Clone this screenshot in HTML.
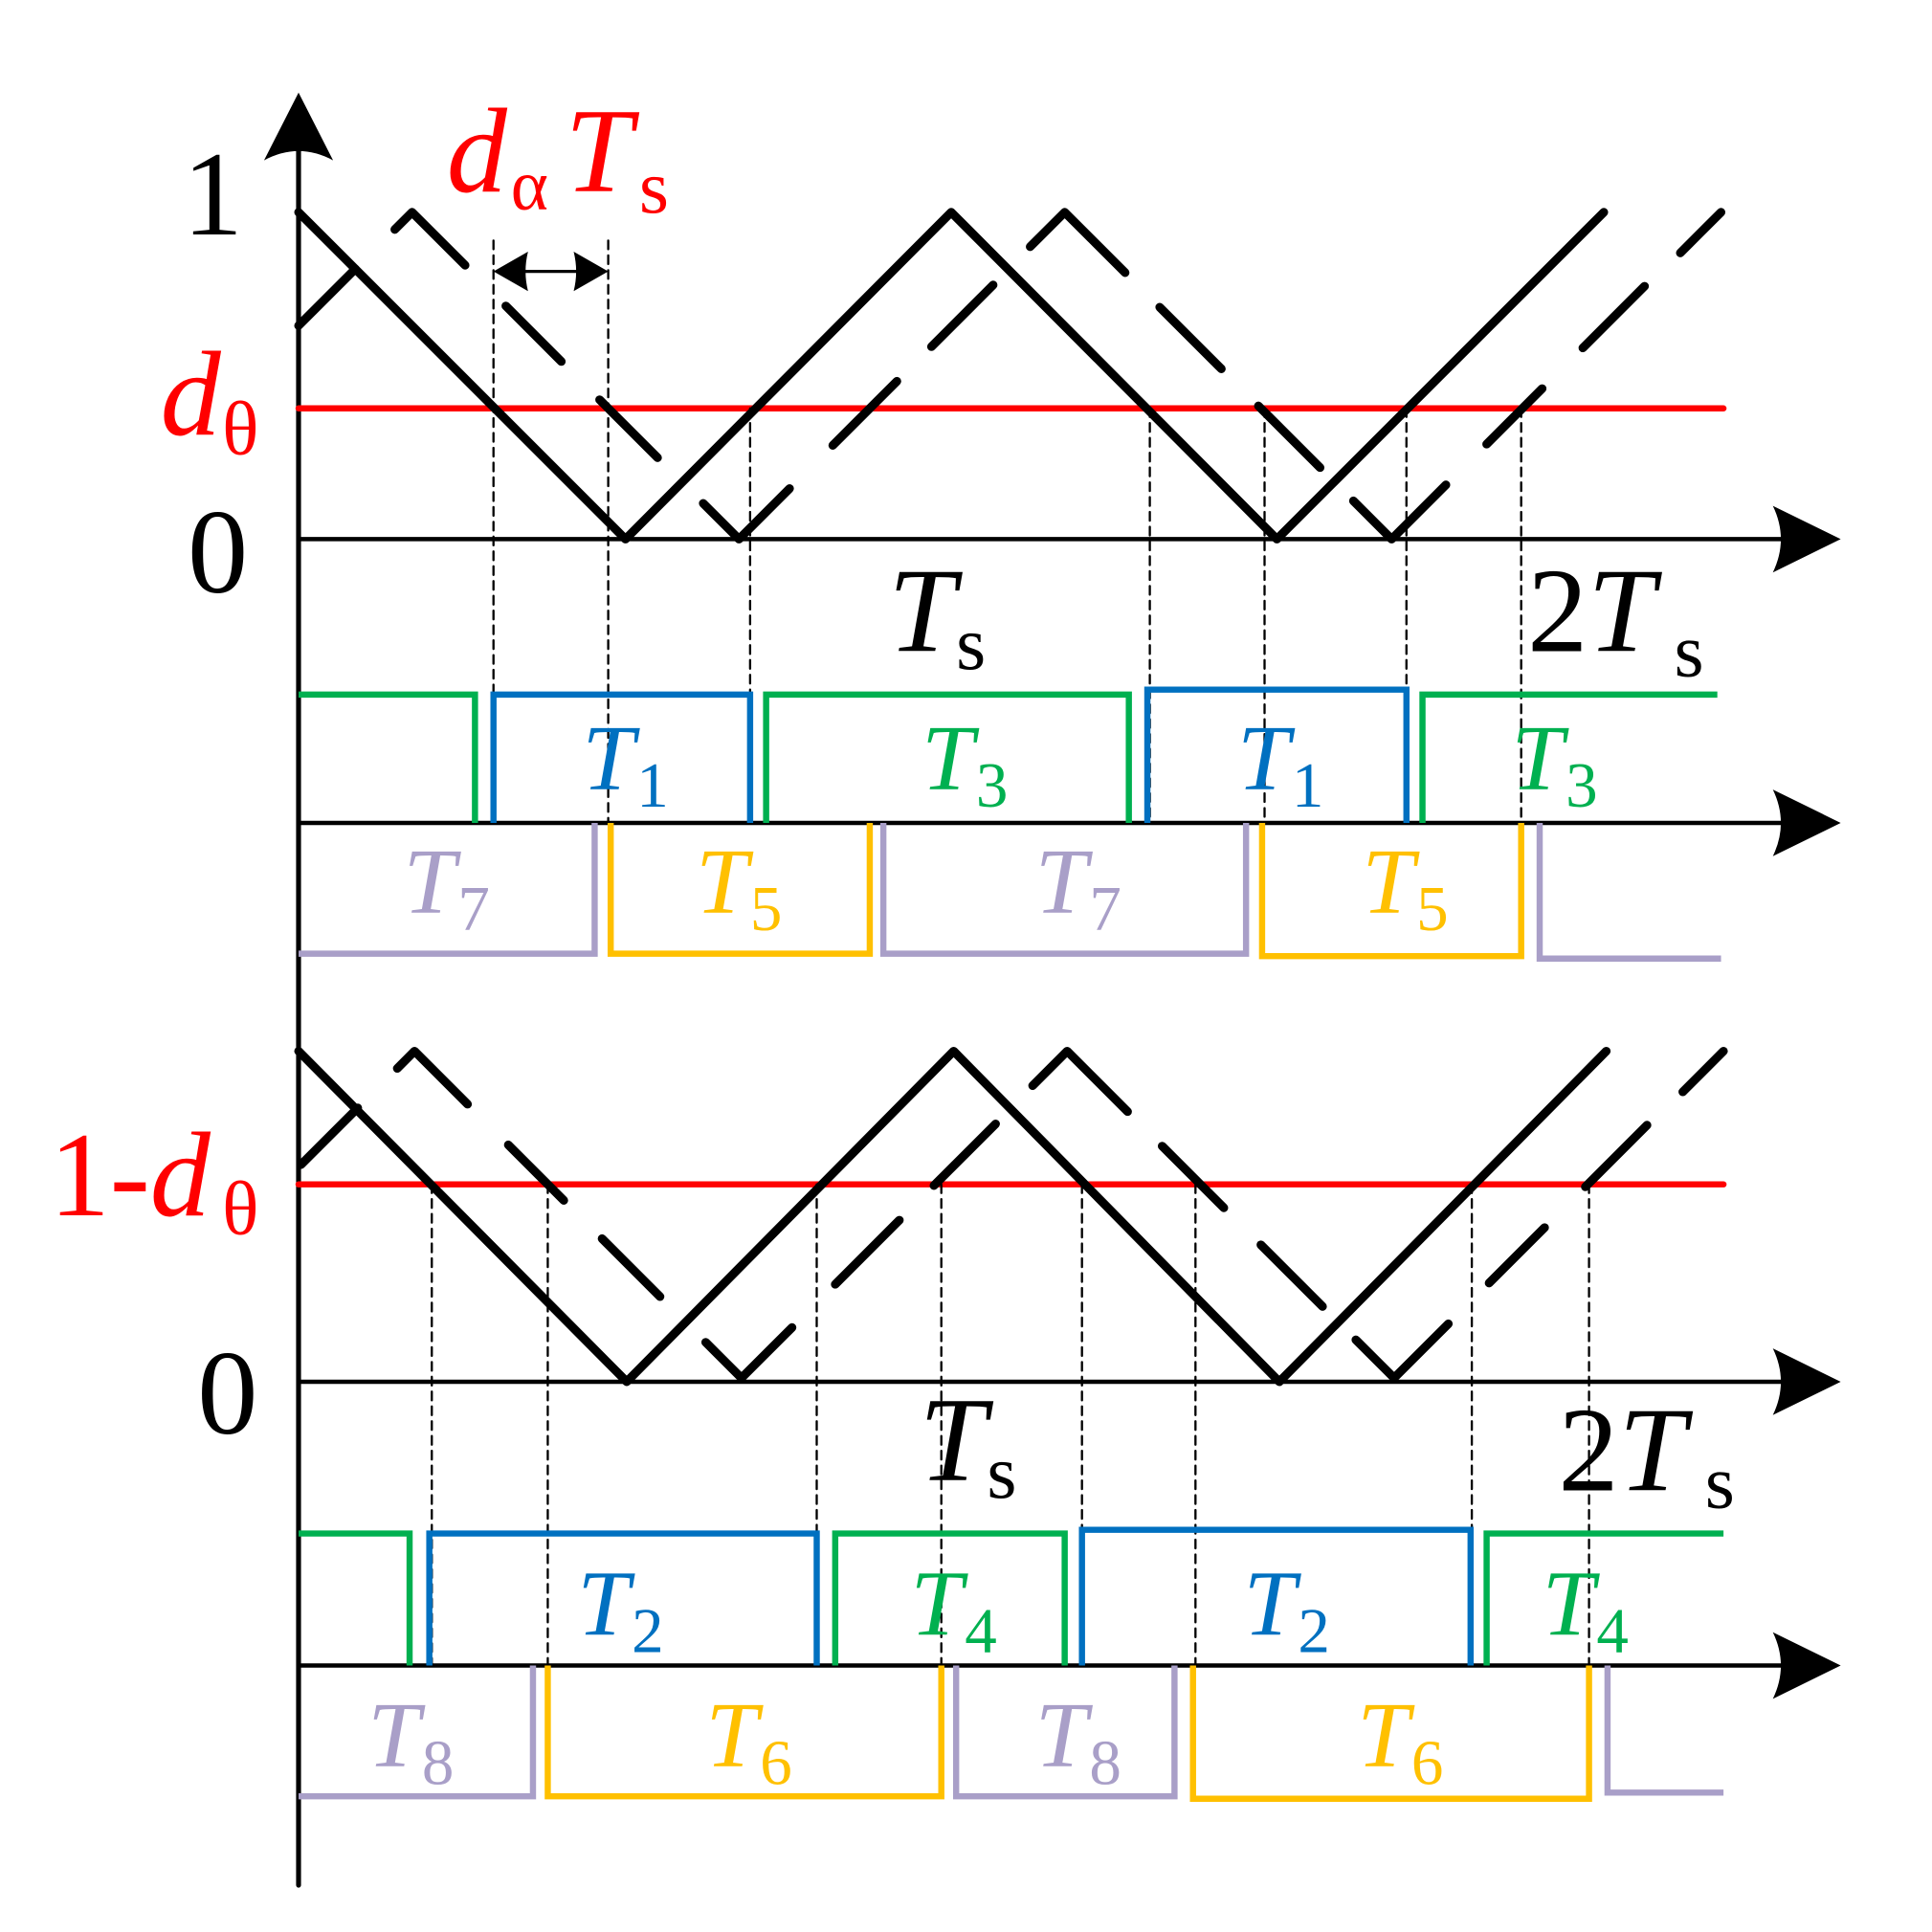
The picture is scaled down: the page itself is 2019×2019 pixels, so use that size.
<!DOCTYPE html>
<html><head><meta charset="utf-8"><style>
html,body{margin:0;padding:0;background:#fff;}
svg{display:block;}
text{font-family:"Liberation Serif",serif;}
.i{font-style:italic;}
</style></head><body>
<svg width="2019" height="2019" viewBox="0 0 1566 1566" xmlns="http://www.w3.org/2000/svg">
<defs>
<g id="dash">
<polyline points="242,264 288,218"/>
<polyline points="320,186 334,172 377,215"/>
<polyline points="410,248 455,293"/>
<polyline points="486,324 533,371"/>
<polyline points="570,408 599,437 640,396"/>
<polyline points="675,361 727,309"/>
<polyline points="755,281 805,231"/>
<polyline points="835,200 863,172 912,221"/>
<polyline points="940,249 990,299"/>
<polyline points="1020,329 1070,379"/>
<polyline points="1097,406 1128,437 1172,393"/>
<polyline points="1205,360 1250,315"/>
<polyline points="1283,282 1333,232"/>
<polyline points="1362,205 1395,172"/>
</g>
</defs>
<g fill="none" stroke-linecap="round" stroke-linejoin="round">
<!-- axes -->
<line x1="242" y1="1528" x2="242" y2="110" stroke="#000" stroke-width="4"/>
<line x1="242" y1="437" x2="1450" y2="437" stroke="#000" stroke-width="3.5"/>
<line x1="242" y1="667" x2="1450" y2="667" stroke="#000" stroke-width="3.5"/>
<line x1="242" y1="1120" x2="1450" y2="1120" stroke="#000" stroke-width="3.5"/>
<line x1="242" y1="1350" x2="1450" y2="1350" stroke="#000" stroke-width="3.5"/>
<!-- red lines -->
<line x1="242" y1="331" x2="1397" y2="331" stroke="#f00" stroke-width="5"/>
<line x1="242" y1="960" x2="1397" y2="960" stroke="#f00" stroke-width="5"/>
<!-- dashed vertical guides -->
<g stroke="#000" stroke-width="1.8" stroke-dasharray="7,5">
<line x1="400" y1="195" x2="400" y2="667"/>
<line x1="493" y1="195" x2="493" y2="667"/>
<line x1="608" y1="331" x2="608" y2="667"/>
<line x1="932" y1="331" x2="932" y2="667"/>
<line x1="1025" y1="331" x2="1025" y2="667"/>
<line x1="1140" y1="331" x2="1140" y2="667"/>
<line x1="1233" y1="331" x2="1233" y2="667"/>
<line x1="350" y1="960" x2="350" y2="1350"/>
<line x1="444" y1="960" x2="444" y2="1350"/>
<line x1="662" y1="960" x2="662" y2="1350"/>
<line x1="763" y1="960" x2="763" y2="1350"/>
<line x1="877" y1="960" x2="877" y2="1350"/>
<line x1="969" y1="960" x2="969" y2="1350"/>
<line x1="1193" y1="960" x2="1193" y2="1350"/>
<line x1="1288" y1="960" x2="1288" y2="1350"/>
</g>
<!-- triangles top -->
<polyline points="242,172 507,437 771,172 1035,437 1300,172" stroke="#000" stroke-width="7"/>
<use href="#dash" stroke="#000" stroke-width="7"/>
<!-- triangles bottom -->
<polyline points="242,852 508,1120 773,852 1037,1120 1302,852" stroke="#000" stroke-width="7"/>
<use href="#dash" stroke="#000" stroke-width="7" transform="translate(2,680)"/>
<!-- pulses row 1 -->
<g stroke-width="5" stroke-linecap="butt" stroke-linejoin="miter">
<polyline points="242,563 385,563 385,667" stroke="#00b050"/>
<polyline points="400,667 400,563 608,563 608,667" stroke="#0070c0"/>
<polyline points="621,667 621,563 915,563 915,667" stroke="#00b050"/>
<polyline points="930,667 930,559 1140,559 1140,667" stroke="#0070c0"/>
<polyline points="1153,667 1153,563 1392,563" stroke="#00b050"/>
<polyline points="242,773 482,773 482,667" stroke="#a99fc8"/>
<polyline points="495,667 495,773 705,773 705,667" stroke="#ffc000"/>
<polyline points="716,667 716,773 1010,773 1010,667" stroke="#a99fc8"/>
<polyline points="1023,667 1023,775 1233,775 1233,667" stroke="#ffc000"/>
<polyline points="1248,667 1248,777 1395,777" stroke="#a99fc8"/>
<!-- pulses row 2 -->
<polyline points="242,1243 332,1243 332,1350" stroke="#00b050"/>
<polyline points="348,1350 348,1243 662,1243 662,1350" stroke="#0070c0"/>
<polyline points="677,1350 677,1243 863,1243 863,1350" stroke="#00b050"/>
<polyline points="877,1350 877,1240 1192,1240 1192,1350" stroke="#0070c0"/>
<polyline points="1205,1350 1205,1243 1397,1243" stroke="#00b050"/>
<polyline points="242,1456 432,1456 432,1350" stroke="#a99fc8"/>
<polyline points="444,1350 444,1456 763,1456 763,1350" stroke="#ffc000"/>
<polyline points="775,1350 775,1456 952,1456 952,1350" stroke="#a99fc8"/>
<polyline points="967,1350 967,1458 1288,1458 1288,1350" stroke="#ffc000"/>
<polyline points="1303,1350 1303,1453 1397,1453" stroke="#a99fc8"/>
</g>
<!-- d_alpha arrow -->
<line x1="410" y1="220" x2="483" y2="220" stroke="#000" stroke-width="2.5"/>
</g>
<!-- arrowheads -->
<g fill="#000">
<path d="M242,75 L270,130 Q242,115 214,130 Z"/>
<path d="M1492,437 L1437,410 Q1450,437 1437,464 Z"/>
<path d="M1492,667 L1437,640 Q1450,667 1437,694 Z"/>
<path d="M1492,1120 L1437,1093 Q1450,1120 1437,1147 Z"/>
<path d="M1492,1350 L1437,1323 Q1450,1350 1437,1377 Z"/>
<path d="M400,220 L428,204 Q424,220 428,236 Z"/>
<path d="M493,220 L465,204 Q469,220 465,236 Z"/>
</g>
<!-- labels -->
<g font-size="98">
<text x="148" y="190">1</text>
<text x="152" y="480">0</text>
<text x="160" y="1162">0</text>
<text x="130" y="352" fill="#f00" class="i">d</text>
<text x="180" y="368" fill="#f00" font-size="62">θ</text>
<text x="362" y="155" fill="#f00" class="i">d</text>
<text x="414" y="170" fill="#f00" font-size="58">α</text>
<text x="458" y="155" fill="#f00" class="i">T</text>
<text x="518" y="172" fill="#f00" font-size="62">s</text>
<text x="40" y="985" fill="#f00">1-<tspan class="i">d</tspan></text>
<text x="180" y="1000" fill="#f00" font-size="62">θ</text>
<text x="720" y="528" class="i">T</text>
<text x="775" y="542" font-size="62">s</text>
<text x="1238" y="528">2<tspan class="i">T</tspan></text>
<text x="1357" y="548" font-size="62">s</text>
<text x="745" y="1200" class="i">T</text>
<text x="800" y="1214" font-size="62">s</text>
<text x="1263" y="1208">2<tspan class="i">T</tspan></text>
<text x="1382" y="1222" font-size="62">s</text>
</g>
<g font-size="76">
<g fill="#0070c0"><text x="472" y="640" class="i">T</text><text x="516" y="654" font-size="52">1</text>
<text x="1003" y="640" class="i">T</text><text x="1047" y="654" font-size="52">1</text>
<text x="468" y="1325" class="i">T</text><text x="512" y="1339" font-size="52">2</text>
<text x="1008" y="1325" class="i">T</text><text x="1052" y="1339" font-size="52">2</text></g>
<g fill="#00b050"><text x="747" y="640" class="i">T</text><text x="791" y="654" font-size="52">3</text>
<text x="1225" y="640" class="i">T</text><text x="1269" y="654" font-size="52">3</text>
<text x="738" y="1325" class="i">T</text><text x="782" y="1339" font-size="52">4</text>
<text x="1250" y="1325" class="i">T</text><text x="1294" y="1339" font-size="52">4</text></g>
<g fill="#a99fc8"><text x="327" y="740" class="i">T</text><text x="371" y="754" font-size="52">7</text>
<text x="839" y="740" class="i">T</text><text x="883" y="754" font-size="52">7</text>
<text x="298" y="1432" class="i">T</text><text x="342" y="1446" font-size="52">8</text>
<text x="839" y="1432" class="i">T</text><text x="883" y="1446" font-size="52">8</text></g>
<g fill="#ffc000"><text x="564" y="740" class="i">T</text><text x="608" y="754" font-size="52">5</text>
<text x="1104" y="740" class="i">T</text><text x="1148" y="754" font-size="52">5</text>
<text x="572" y="1432" class="i">T</text><text x="616" y="1446" font-size="52">6</text>
<text x="1100" y="1432" class="i">T</text><text x="1144" y="1446" font-size="52">6</text></g>
</g>
</svg>
</body></html>
